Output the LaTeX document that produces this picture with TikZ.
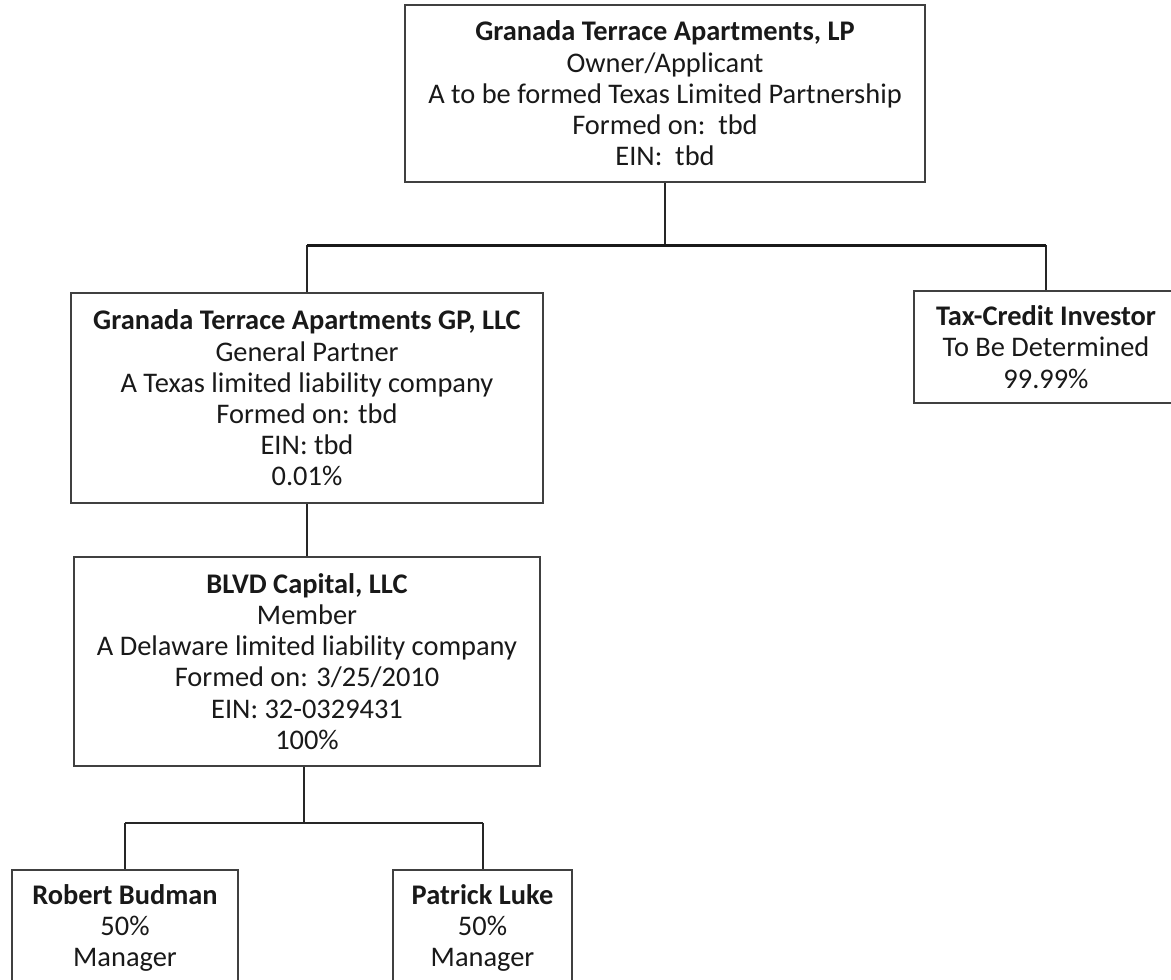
\documentclass[tikz,border=0pt]{standalone}
\usepackage{fontspec}
\setmainfont{Carlito}
\begin{document}
\begin{tikzpicture}[x=0.5pt,y=-0.5pt,
  box/.style={draw=black!75, line width=1pt, fill=white, align=center, inner sep=0pt,
    font=\fontsize{14.2}{15.6}\selectfont, text=black!90},
  conn/.style={draw=black!85, line width=1pt},
  bar/.style={draw=black!90, line width=1.5pt}]
\useasboundingbox (0,0) rectangle (1171,979);
\clip (0,0) rectangle (1171,979);
\fill[white] (0,0) rectangle (1171,979);
\node[box, minimum width=260pt, minimum height=88.5pt] (top) at (665,93.5)
  {\textbf{Granada Terrace Apartments, LP}\\Owner/Applicant\\A to be formed Texas Limited Partnership\\Formed on:\ \ tbd\\EIN:\ \ tbd};
\node[box, minimum width=236pt, minimum height=105pt] (gp) at (307,398)
  {\textbf{Granada Terrace Apartments GP, LLC}\\General Partner\\A Texas limited liability company\\Formed on: tbd\\EIN: tbd\\0.01\%};
\node[box, minimum width=132pt, minimum height=56pt] (tax) at (1046,347)
  {\textbf{Tax-Credit Investor}\\To Be Determined\\99.99\%};
\node[box, minimum width=233pt, minimum height=104.5pt] (blvd) at (307,661.5)
  {\textbf{BLVD Capital, LLC}\\Member\\A Delaware limited liability company\\Formed on: 3/25/2010\\EIN: 32-0329431\\100\%};
\node[box, minimum width=113pt, minimum height=58pt] (rob) at (125,928)
  {\textbf{Robert Budman}\\50\%\\Manager};
\node[box, minimum width=89.5pt, minimum height=58pt] (pat) at (482.5,928)
  {\textbf{Patrick Luke}\\50\%\\Manager};
\coordinate (j1) at (665,245);
\coordinate (hl) at (307,245);
\coordinate (hr) at (1046,245);
\draw[conn] (top.south) -- (j1);
\draw[conn] (gp.north) -- (hl);
\draw[conn] (tax.north) -- (hr);
\draw[bar] (hl) -- (hr);
\draw[conn] (gp.south) -- (blvd.north);
\coordinate (j2) at (304,823);
\coordinate (bl) at (125,823);
\coordinate (br) at (482.5,823);
\draw[conn] (blvd.south -| j2) -- (j2);
\draw[conn] (bl) -- (br);
\draw[conn] (bl) -- (rob.north);
\draw[conn] (br) -- (pat.north);
\end{tikzpicture}
\end{document}
